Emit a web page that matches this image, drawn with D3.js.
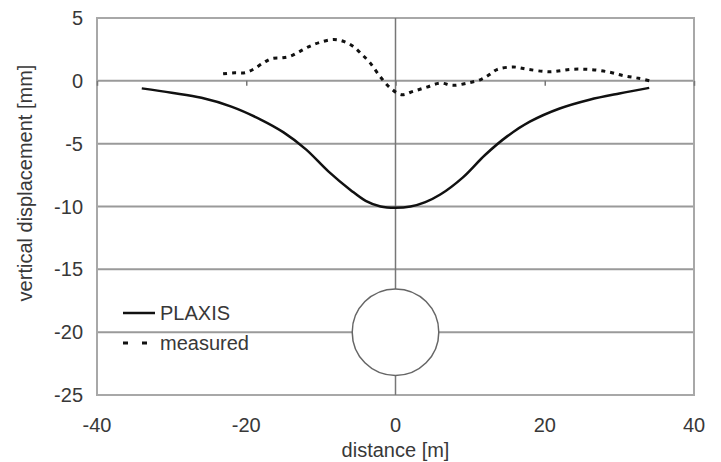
<!DOCTYPE html>
<html>
<head>
<meta charset="utf-8">
<script src="https://cdn.jsdelivr.net/npm/d3@7"></script>
<style>
    body { margin: 0; background: #fff; }
    text { font-family: 'Liberation Sans', Arial, sans-serif; font-size: 20px; fill: #383838; }
</style>
</head>
<body>
<div id="chart"></div>
<script>
// Data
const plaxisX = [-34, -30, -26, -22, -18, -15, -12, -9, -6, -4, -2, 0, 2, 4, 6, 9, 12, 15, 18, 22, 26, 30, 34]
const plaxisY = [-0.6, -0.95, -1.35, -2.05, -3.1, -4.1, -5.45, -7.2, -8.7, -9.55, -10.0, -10.1, -10.0, -9.65, -9.05, -7.7, -5.9, -4.4, -3.25, -2.2, -1.5, -1.0, -0.56]

const measuredX = [-23.1, -21.5, -20.2, -19.1, -17.7, -16.6, -15.3, -14.1, -12.8, -11.5, -10.1, -8.3, -7.0, -5.7, -4.5, -3.4, -2.1, -0.7, 0.8, 2.4, 4.2, 6.0, 7.7, 9.8, 11.5, 12.6, 13.6, 15.8, 17.7, 20.7, 23.6, 26.1, 28.6, 30.6, 32.6, 34.6]
const measuredY = [0.56, 0.64, 0.64, 0.9, 1.43, 1.77, 1.83, 1.96, 2.35, 2.75, 3.07, 3.29, 3.15, 2.75, 2.1, 1.43, 0.37, -0.56, -1.1, -0.83, -0.5, -0.18, -0.36, -0.16, 0.12, 0.5, 0.9, 1.1, 0.92, 0.72, 0.92, 0.9, 0.7, 0.4, 0.2, -0.08]

const xTicks = [-40, -20, 0, 20, 40]
const yTicks = [5, 0, -5, -10, -15, -20, -25]
const tunnelCenter = [0, -20]
const tunnelRadius = 5.8 // in metres on the x axis

const legendNames = ['PLAXIS', 'measured']

const width = 721
const height = 462
const plotLeft = 97
const plotRight = 694
const plotTop = 18
const plotBottom = 395

let svg = d3.select('#chart')
            .append('svg')
            .attr('width', width)
            .attr('height', height)

// Scales
let xScale = d3.scaleLinear().domain([-40, 40]).range([plotLeft, plotRight])
let yScale = d3.scaleLinear().domain([-25, 5]).range([plotBottom, plotTop])

// Horizontal gridlines
svg.append('g').selectAll('line')
    .data(yTicks)
    .enter()
    .append('line')
    .attr('x1', plotLeft)
    .attr('x2', plotRight)
    .attr('y1', (d) => yScale(d))
    .attr('y2', (d) => yScale(d))
    .attr('stroke', '#9a9a9a')
    .attr('stroke-width', 2)

// Plot frame
svg.append('rect')
    .attr('x', plotLeft)
    .attr('y', plotTop)
    .attr('width', plotRight - plotLeft)
    .attr('height', plotBottom - plotTop)
    .attr('fill', 'none')
    .attr('stroke', '#a8a8a8')
    .attr('stroke-width', 2)

// Vertical axis at x = 0
svg.append('line')
    .attr('x1', xScale(0))
    .attr('x2', xScale(0))
    .attr('y1', plotTop)
    .attr('y2', plotBottom)
    .attr('stroke', '#777')
    .attr('stroke-width', 1.5)

// x axis on the zero line, ticks only
let xAxis = d3.axisBottom(xScale).tickValues(xTicks).tickSize(5).tickFormat('')
let xAxisG = svg.append('g')
    .attr('transform', 'translate(0,' + yScale(0) + ')')
    .call(xAxis)
xAxisG.select('.domain').remove()
xAxisG.selectAll('line').attr('stroke', '#777').attr('stroke-width', 1.5)

// Tick labels
svg.append('g').selectAll('text')
    .data(xTicks)
    .enter()
    .append('text')
    .attr('x', (d) => xScale(d))
    .attr('y', 432)
    .attr('text-anchor', 'middle')
    .text((d) => d)

svg.append('g').selectAll('text')
    .data(yTicks)
    .enter()
    .append('text')
    .attr('x', 83)
    .attr('y', (d) => yScale(d) + 7)
    .attr('text-anchor', 'end')
    .text((d) => d)

// Axis titles
svg.append('text')
    .attr('x', xScale(0))
    .attr('y', 457)
    .attr('text-anchor', 'middle')
    .text('distance [m]')

svg.append('text')
    .attr('transform', 'translate(32,183) rotate(-90)')
    .attr('text-anchor', 'middle')
    .text('vertical displacement [mm]')

// Tunnel
svg.append('circle')
    .attr('cx', xScale(tunnelCenter[0]))
    .attr('cy', yScale(tunnelCenter[1]))
    .attr('r', xScale(tunnelRadius) - xScale(0))
    .attr('fill', '#fff')
    .attr('stroke', '#666')
    .attr('stroke-width', 1.5)

// Lines
let line = d3.line()
    .x((d) => xScale(d[0]))
    .y((d) => yScale(d[1]))
    .curve(d3.curveCatmullRom)

svg.append('path')
    .datum(plaxisX.map((x, i) => [x, plaxisY[i]]))
    .attr('d', line)
    .attr('fill', 'none')
    .attr('stroke', '#111')
    .attr('stroke-width', 2.5)

svg.append('path')
    .datum(measuredX.map((x, i) => [x, measuredY[i]]))
    .attr('d', line)
    .attr('fill', 'none')
    .attr('stroke', '#111')
    .attr('stroke-width', 3)
    .attr('stroke-dasharray', '4,5')

// Legend
let legend = svg.append('g')
legend.append('line')
    .attr('x1', 123).attr('x2', 155)
    .attr('y1', 313).attr('y2', 313)
    .attr('stroke', '#111')
    .attr('stroke-width', 2.5)
legend.append('line')
    .attr('x1', 123).attr('x2', 148)
    .attr('y1', 343).attr('y2', 343)
    .attr('stroke', '#111')
    .attr('stroke-width', 3)
    .attr('stroke-dasharray', '5,14')
legend.selectAll('text')
    .data(legendNames)
    .enter()
    .append('text')
    .attr('x', 160)
    .attr('y', (d, i) => 320 + i * 30)
    .text((d) => d)
</script>
</body>
</html>
